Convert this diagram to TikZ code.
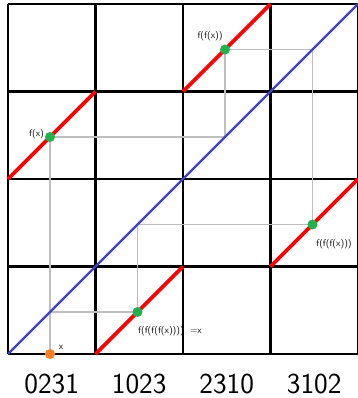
\documentclass[tikz,border=0pt]{standalone}
\begin{document}
\begin{tikzpicture}[x=87.5pt,y=87.5pt,
  gridline/.style={black,line width=2.1pt},
  redseg/.style={red,line width=3.8pt},
  diag/.style={color={rgb,255:red,64;green,64;blue,200},line width=2.3pt},
  cob/.style={color={rgb,255:red,190;green,190;blue,190},line width=1.5pt},
  gdot/.style={circle,fill={rgb,255:red,34;green,177;blue,76},inner sep=0pt,minimum size=10pt},
  odot/.style={circle,fill={rgb,255:red,255;green,127;blue,39},inner sep=0pt,minimum size=10pt},
  small/.style={font=\sffamily\fontsize{9.5}{11}\selectfont,inner sep=0pt},
  big/.style={font=\sffamily\fontsize{29}{32}\selectfont,inner sep=0pt,anchor=base}]
\useasboundingbox (-0.0914,-0.5029) rectangle (3.989,4.0457);
\fill[white] (-0.0914,-0.5029) rectangle (3.989,4.0457);
% grid
\foreach \i in {0,1,2,3,4} {
  \draw[gridline] (\i,0) -- (\i,4);
  \draw[gridline] (0,\i) -- (4,\i);
}
% cobweb coordinates
\def\xv{0.48}
\coordinate (p0) at (\xv,0);
\coordinate (p1) at (\xv,2.48);
\coordinate (d1) at (2.48,2.48);
\coordinate (p2) at (2.48,3.48);
\coordinate (d2) at (3.48,3.48);
\coordinate (p3) at (3.48,1.48);
\coordinate (d3) at (1.48,1.48);
\coordinate (p4) at (1.48,0.48);
\coordinate (d4) at (0.48,0.48);
\draw[cob] (p0) -- (p1) -- (d1) -- (p2) -- (d2) -- (p3) -- (d3) -- (p4) -- (d4);
% diagonal
\draw[diag] (0,0) -- (4,4);
% red map
\draw[redseg] (0,2) -- (1,3);
\draw[redseg] (1,0) -- (2,1);
\draw[redseg] (2,3) -- (3,4);
\draw[redseg] (3,1) -- (4,2);
% points
\node[odot] (x0) at (p0) {};
\node[gdot] (g1) at (p1) {};
\node[gdot] (g2) at (p2) {};
\node[gdot] (g3) at (p3) {};
\node[gdot] (g4) at (p4) {};
% labels
\node[small] (lx) at (0.606,0.075) {x};
\node[small] (l1) at (0.326,2.514) {f(x)};
\node[small] (l2) at (2.309,3.631) {f(f(x))};
\node[small] (l3) at (3.726,1.251) {f(f(f(x)))};
\node[small,anchor=west] (l4) at (1.486,0.265) {f(f(f(f(x))))\ \ =x};
% bottom labels
\node[big] (c1) at (0.5,-0.455) {0231};
\node[big] (c2) at (1.5,-0.455) {1023};
\node[big] (c3) at (2.5,-0.455) {2310};
\node[big] (c4) at (3.5,-0.455) {3102};
\end{tikzpicture}
\end{document}
